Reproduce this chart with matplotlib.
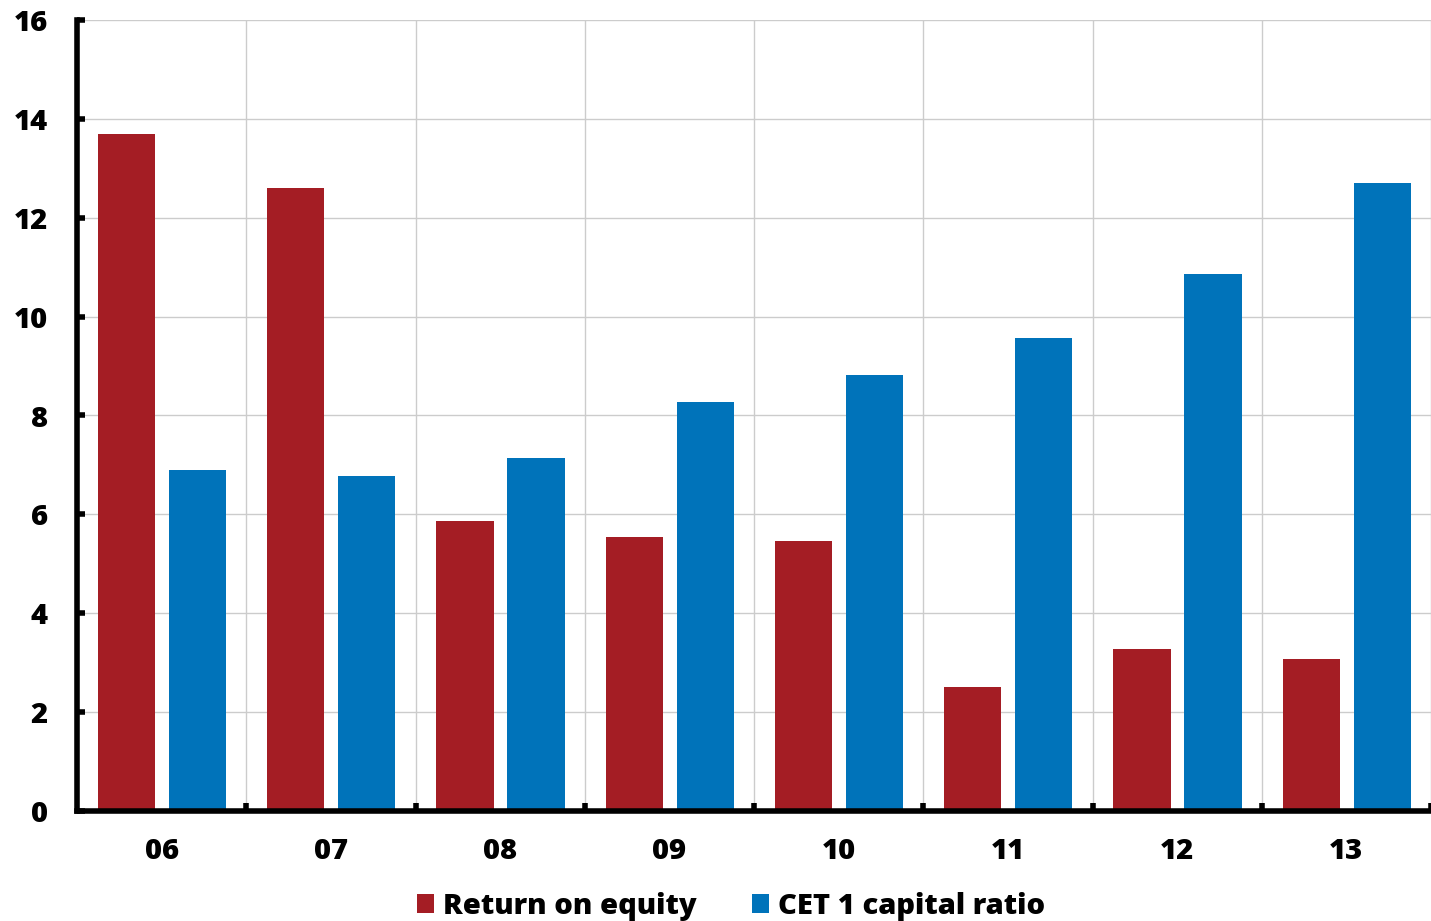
from matplotlib import pyplot as plt
import numpy as np
from matplotlib.ticker import MultipleLocator, FixedLocator

plt.rcParams["font.family"] = ["Open Sans", "DejaVu Sans"]
plt.rcParams["font.weight"] = "heavy"

years = ["06", "07", "08", "09", "10", "11", "12", "13"]
roe = [13.7, 12.6, 5.87, 5.54, 5.46, 2.51, 3.28, 3.07]
cet1 = [6.9, 6.78, 7.14, 8.27, 8.82, 9.57, 10.86, 12.7]

red = "#a41d24"
blue = "#0073ba"

fig = plt.figure(figsize=(14.31, 9.21), dpi=100)
ax = fig.add_axes([77 / 1431, 110 / 921, 1354 / 1431, 791 / 921])

x = np.arange(len(years))
width = 0.337
ax.bar(x + 0.2925, roe, width, color=red, label="Return on equity", zorder=3)
ax.bar(x + 0.712, cet1, width, color=blue, label="CET 1 capital ratio", zorder=3)

ax.set_xlim(0, len(years))
ax.set_ylim(0, 16)
ax.yaxis.set_major_locator(MultipleLocator(2))
ax.xaxis.set_major_locator(FixedLocator(x + 0.5))
ax.xaxis.set_minor_locator(FixedLocator(np.arange(1, len(years) + 1)))
ax.set_xticklabels(years)

ax.grid(axis="y", which="major", color="#cccccc", linewidth=1.0, zorder=0)
ax.grid(axis="x", which="minor", color="#cccccc", linewidth=1.0, zorder=0)
ax.set_axisbelow(True)

for side in ["top", "right"]:
    ax.spines[side].set_visible(False)
for side in ["left", "bottom"]:
    ax.spines[side].set_linewidth(4)
    ax.spines[side].set_zorder(4)

ax.tick_params(axis="y", direction="in", length=6, width=4, labelsize=21, pad=21)
ax.tick_params(axis="x", which="major", length=0, labelsize=21, pad=19)
ax.tick_params(axis="x", which="minor", direction="in", length=6, width=4)

fig.legend(loc="center", bbox_to_anchor=(0.511, 0.016), ncols=2, frameon=False,
           fontsize=21, handlelength=0.58, handleheight=0.58, handletextpad=0.3,
           columnspacing=1.9, borderpad=0)

plt.savefig("out.png", dpi=100)
